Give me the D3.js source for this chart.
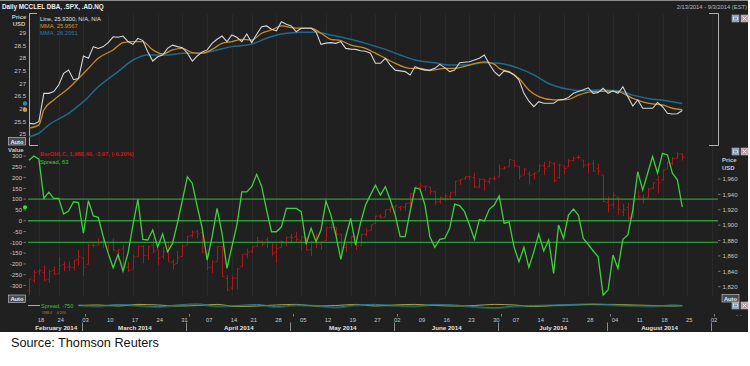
<!DOCTYPE html>
<html><head><meta charset="utf-8">
<script src="https://cdn.jsdelivr.net/npm/d3@7/dist/d3.min.js"></script>
<style>html,body{margin:0;padding:0;background:#fff}svg{display:block}</style>
</head><body>
<svg id="chart" width="750" height="366"></svg>
<script>
// ---------- DATA ----------
const days = ["02-13","02-14","02-18","02-19","02-20","02-21","02-24","02-25","02-26","02-27","02-28",
"03-03","03-04","03-05","03-06","03-07","03-10","03-11","03-12","03-13","03-14","03-17","03-18","03-19","03-20","03-21","03-24","03-25","03-26","03-27","03-28","03-31",
"04-01","04-02","04-03","04-04","04-07","04-08","04-09","04-10","04-11","04-14","04-15","04-16","04-17","04-21","04-22","04-23","04-24","04-25","04-28","04-29","04-30",
"05-01","05-02","05-05","05-06","05-07","05-08","05-09","05-12","05-13","05-14","05-15","05-16","05-19","05-20","05-21","05-22","05-23","05-27","05-28","05-29","05-30",
"06-02","06-03","06-04","06-05","06-06","06-09","06-10","06-11","06-12","06-13","06-16","06-17","06-18","06-19","06-20","06-23","06-24","06-25","06-26","06-27","06-30",
"07-01","07-02","07-03","07-07","07-08","07-09","07-10","07-11","07-14","07-15","07-16","07-17","07-18","07-21","07-22","07-23","07-24","07-25","07-28","07-29","07-30","07-31",
"08-01","08-04","08-05","08-06","08-07","08-08","08-11","08-12","08-13","08-14","08-15","08-18","08-19","08-20","08-21","08-22",
"08-25","08-26","08-27","08-28","08-29","09-02","09-03"];

// DBA daily close (USD)
const dbaLine = [25.42,25.40,25.49,26.61,26.61,26.68,26.94,27.40,27.53,27.15,27.20,28.09,28.00,28.46,28.39,28.46,28.62,28.85,28.83,28.88,
28.66,28.55,28.79,28.70,28.26,27.89,28.06,28.13,28.39,28.52,28.46,28.42,28.20,27.89,28.09,28.25,28.33,28.59,28.75,28.88,
28.66,28.92,28.83,28.66,28.96,28.62,28.95,29.25,29.28,29.15,29.09,29.45,29.35,29.28,29.05,29.19,29.19,29.19,29.05,28.55,
28.60,28.62,28.59,28.66,28.39,28.36,28.35,28.30,28.28,28.20,27.80,27.80,28.00,27.73,27.53,27.50,27.47,27.34,27.67,27.58,
27.53,27.53,27.60,27.76,27.63,27.47,27.53,27.82,27.84,27.86,27.93,28.00,28.13,27.77,27.47,27.30,27.50,27.45,27.34,27.14,
26.61,26.30,26.08,26.28,26.22,26.22,26.22,26.35,26.37,26.45,26.61,26.68,26.75,26.83,26.61,26.64,26.81,26.61,26.71,26.61,
26.87,26.48,26.11,26.35,26.02,26.02,26.02,26.25,26.08,25.82,25.79,25.80,25.93];

// MMA (fast, orange) read at these trading-day indices
const mmaFastDays = [0,2,3,5,8,10,12,14,17,19,21,23,25,27,29,31,33,35,37,39,41,43,45,47,49,51,54,57,59,61,63,65,68,70,72,74,77,79,81,84,86,89,92,94,95,97,99,101,103,106,109,111,114,117,119,122,125,128,130,132];
const mmaFast = [25.23,25.36,25.95,26.35,26.81,27.20,27.60,28.00,28.33,28.62,28.66,28.66,28.33,28.17,28.33,28.39,28.22,28.20,28.35,28.59,28.66,28.75,28.72,28.99,29.12,29.28,29.19,29.19,28.99,28.75,28.70,28.52,28.39,28.20,28.00,27.80,27.60,27.60,27.51,27.60,27.60,27.73,27.86,27.77,27.60,27.47,27.20,26.74,26.48,26.35,26.37,26.54,26.68,26.70,26.68,26.41,26.22,26.15,26.02,25.96];

// MMA (slow, blue)
const mmaSlowDays = [0,2,4,8,11,14,18,21,24,28,31,35,38,41,45,48,51,55,58,61,65,68,72,75,78,82,85,88,92,95,99,102,105,109,112,115,119,122,125,129,132];
const mmaSlow = [24.89,25.03,25.36,25.82,26.28,26.87,27.47,27.93,28.13,28.13,28.20,28.20,28.33,28.46,28.56,28.79,28.96,29.03,29.03,28.92,28.75,28.59,28.35,28.13,27.93,27.82,27.73,27.73,27.82,27.80,27.60,27.34,27.00,26.77,26.71,26.74,26.71,26.54,26.41,26.31,26.21];

// S&P 500 OHLC
const spxOpen = [1814.9,1828.5,1839.3,1838.3,1829.2,1841.1,1836.8,1848.7,1845.8,1844.9,1855.1,1857.7,1849.2,1874.1,1874.2,1878.5,1877.9,1878.3,1866.2,1869.1,
1845.1,1842.8,1858.9,1872.3,1860.1,1874.0,1867.7,1859.5,1867.1,1852.1,1850.1,1859.2,1873.9,1886.6,1891.4,1890.3,1863.9,1845.5,1852.6,1872.3,
1830.7,1818.2,1831.5,1846.0,1861.7,1865.8,1872.6,1879.3,1881.0,1877.7,1865.0,1870.8,1877.1,1884.4,1885.3,1879.5,1883.7,1868.5,1877.4,1875.3,
1880.0,1896.8,1897.1,1888.2,1871.2,1876.7,1884.9,1873.3,1888.2,1893.3,1902.0,1911.8,1910.6,1920.3,1923.9,1923.1,1923.1,1928.5,1942.4,1948.9,
1950.3,1949.4,1943.4,1930.8,1934.8,1937.2,1942.7,1957.5,1960.5,1962.9,1961.9,1949.3,1959.9,1956.6,1960.8,1962.3,1973.1,1975.9,1984.2,1976.4,
1965.1,1966.7,1965.8,1969.9,1977.4,1976.4,1979.8,1961.5,1976.9,1975.7,1984.0,1988.1,1984.6,1978.3,1980.0,1973.2,1965.1,1929.8,1926.6,1936.3,
1917.3,1923.0,1910.4,1933.4,1935.7,1935.6,1947.4,1958.9,1958.4,1972.7,1980.5,1986.8,1992.6];
const spxHigh = [1830.3,1841.7,1842.9,1847.5,1842.1,1846.1,1858.7,1852.7,1852.7,1854.5,1867.9,1857.7,1876.2,1876.5,1883.6,1883.6,1877.9,1882.4,1868.4,1874.4,
1852.4,1862.3,1873.8,1874.1,1873.5,1883.9,1867.9,1871.9,1875.9,1855.6,1866.6,1875.2,1885.8,1893.2,1893.8,1897.3,1864.0,1854.9,1872.4,1872.5,
1835.1,1834.2,1844.0,1862.3,1869.6,1871.9,1884.9,1879.8,1884.1,1877.7,1877.0,1880.0,1885.2,1888.6,1891.3,1885.5,1883.7,1878.8,1889.1,1878.6,
1897.1,1902.2,1897.1,1888.2,1878.3,1886.0,1884.9,1888.8,1896.3,1901.3,1912.3,1914.5,1920.0,1924.0,1925.9,1925.1,1928.6,1941.7,1949.4,1955.6,
1950.9,1949.4,1943.9,1937.3,1941.2,1943.7,1957.7,1959.9,1963.9,1963.7,1968.2,1960.8,1959.9,1961.0,1964.2,1978.6,1976.7,1985.6,1984.2,1976.4,
1974.2,1969.8,1968.7,1979.9,1982.5,1983.9,1981.8,1979.9,1976.9,1986.2,1989.2,1991.4,1984.6,1981.5,1984.9,1980.0,1965.1,1937.4,1942.9,1936.3,
1927.9,1928.9,1932.4,1944.9,1939.7,1948.4,1955.2,1964.0,1972.0,1982.6,1988.6,1994.8,1993.5];
const spxLow = [1809.2,1825.1,1835.0,1826.9,1824.9,1835.6,1836.8,1840.2,1840.7,1841.1,1847.7,1834.4,1849.2,1871.0,1874.2,1870.6,1867.0,1866.1,1854.4,1841.9,
1839.6,1842.8,1858.9,1850.4,1854.6,1863.5,1847.9,1855.9,1852.6,1842.1,1850.1,1859.2,1873.9,1883.8,1882.7,1863.3,1841.5,1837.5,1852.4,1833.0,
1814.4,1815.8,1816.3,1846.0,1856.7,1863.2,1872.6,1872.0,1870.2,1859.7,1851.0,1870.8,1872.7,1878.0,1878.5,1866.8,1867.7,1859.8,1870.1,1867.8,
1880.0,1893.6,1885.8,1862.4,1864.8,1872.4,1868.1,1873.3,1885.4,1893.3,1902.0,1909.1,1909.8,1916.6,1915.0,1918.8,1918.6,1922.9,1942.4,1947.2,
1944.6,1940.1,1925.8,1927.7,1930.9,1933.6,1937.9,1952.3,1959.2,1958.2,1948.3,1949.3,1944.7,1953.0,1958.2,1962.3,1972.6,1975.9,1975.7,1959.5,
1965.1,1952.9,1959.6,1969.9,1965.3,1975.7,1955.6,1960.8,1965.8,1975.7,1982.4,1985.8,1974.4,1967.3,1969.7,1965.1,1930.1,1916.4,1921.2,1913.8,
1911.5,1904.8,1909.0,1933.4,1928.3,1935.6,1947.4,1941.5,1958.4,1972.7,1977.7,1986.8,1984.0];
const spxClose = [1829.8,1838.6,1840.8,1828.8,1839.8,1836.3,1847.6,1845.1,1845.2,1854.3,1859.5,1845.7,1873.9,1873.8,1877.0,1878.0,1877.2,1867.6,1868.2,1846.3,
1841.1,1858.8,1872.3,1860.8,1872.0,1866.5,1857.4,1865.6,1852.6,1849.0,1857.6,1872.3,1885.5,1890.9,1888.8,1865.1,1845.0,1852.0,1872.2,1833.1,
1815.7,1830.6,1843.0,1862.3,1864.9,1871.9,1879.6,1875.4,1878.6,1863.4,1869.4,1878.3,1884.0,1883.7,1881.1,1884.7,1867.7,1878.2,1875.6,1878.5,
1896.7,1897.5,1888.5,1870.9,1877.9,1885.1,1872.8,1888.0,1892.5,1900.5,1911.9,1909.8,1920.0,1923.6,1925.0,1924.2,1927.9,1940.5,1949.4,1951.3,
1950.8,1943.9,1930.1,1936.2,1937.8,1942.0,1957.0,1959.5,1962.9,1962.6,1950.0,1959.5,1957.2,1961.0,1960.2,1973.3,1974.6,1985.4,1977.7,1963.7,
1972.8,1964.7,1967.6,1977.1,1973.3,1981.6,1958.1,1978.2,1973.6,1983.5,1987.0,1988.0,1978.3,1978.9,1970.0,1970.1,1930.7,1925.2,1939.0,1920.2,
1920.2,1909.6,1931.6,1936.9,1933.8,1946.7,1955.2,1955.1,1971.7,1981.6,1986.5,1992.4,1988.4];

// Spread (value axis)
const spread = [280,300,285,104,132,104,104,31,45,88,84,-58,93,22,16,-74,-150,-218,-156,-233,
-151,-20,99,-86,-89,-43,-121,-62,-144,-105,-10,96,204,173,65,-35,-182,-74,57,-58,
-221,-120,-20,134,134,158,215,160,50,-51,-51,-28,57,57,57,42,-108,-35,-97,-43,
91,26,-66,-179,-74,11,-113,-9,73,120,165,119,158,96,26,-74,-74,42,153,146,
73,-74,-123,-86,-82,-35,77,70,42,-20,-86,6,-1,53,73,115,-12,-5,-121,-190,
-123,-216,-144,-62,-140,-89,-244,-20,-82,26,54,26,-82,-110,-140,-167,-344,-321,-159,-221,
-86,-66,50,227,142,220,297,220,312,305,220,190,63];
const spreadLevels = [100, 0, -100];

// lower mini panel
const miniDays = [10,14,18,22,26,30,34,38,42,46,50,54,58,62,66,70,74,78,82,86,90,94,98,102,106,110,114,118,122,126,130,132];
const miniTeal = [0.5,-0.5,1,0,-1,0.5,1.5,-0.5,0,1,-1,0.5,0,-1.5,0.5,1,0,-0.5,1,0.5,-1,-2,-0.5,0,0.5,1,1.5,0.5,0,-0.5,0.5,0];
const miniYellow = [0,0.5,-0.5,1,0.5,-0.5,0,1,-1,-0.5,0.5,1,-0.5,0,1,-0.5,0.5,1,0,-0.5,0,1,0.5,-1,0,0.5,1,1,0.5,0,-0.5,0];

// axes
const priceTicks = [25,25.5,26,26.5,27,27.5,28,28.5,29];
const valueTicks = [300,250,200,150,100,50,0,-50,-100,-150,-200,-250,-300];
const spxTicks = [1960,1940,1920,1900,1880,1860,1840,1820];
const weekTicks = ["02-18","02-24","03-03","03-10","03-17","03-24","03-31","04-07","04-14","04-21","04-28","05-05","05-12","05-19","05-27","06-02","06-09","06-16","06-23","06-30","07-07","07-14","07-21","07-28","08-04","08-11","08-18","08-25","09-02"];
const monthNames = ["February 2014","March 2014","April 2014","May 2014","June 2014","July 2014","August 2014"];
const monthStarts = ["02-13","03-03","04-01","05-01","06-02","07-01","08-01","09-02"];

// ---------- DRAW ----------
const svg = d3.select("#chart");
const F = "'Liberation Sans', Arial, sans-serif";
const di = d => days.indexOf(d);

const x = d3.scaleLinear().domain([0, 138]).range([29, 712]);
const yP = d3.scaleLinear().domain([25, 29]).range([134, 33]);
const yV = d3.scaleLinear().domain([-300, 300]).range([285.5, 156]);
const yS = d3.scaleLinear().domain([1820, 1960]).range([286.7, 179]);
const yM = d3.scaleLinear().domain([-5, 5]).range([311, 300]);

svg.append("rect").attr("x",0).attr("y",0).attr("width",748).attr("height",332).attr("fill","#202020");
svg.append("line").attr("x1",0).attr("x2",748).attr("y1",0.5).attr("y2",0.5).attr("stroke","#8a8a8a");

// faint week gridlines
svg.append("g").selectAll("line").data(weekTicks).join("line")
  .attr("x1",d=>Math.round(x(di(d)))+0.5).attr("x2",d=>Math.round(x(di(d)))+0.5)
  .attr("y1",14).attr("y2",296).attr("stroke","#292929");

// title & range
svg.append("text").attr("x",2).attr("y",9).attr("fill","#f0f0f0").attr("font-family",F)
  .attr("font-size",6.3).attr("font-weight","bold").text("Daily MCCLEL DBA, .SPX, .AD.NQ");
svg.append("text").attr("x",747).attr("y",9).attr("text-anchor","end").attr("fill","#b8b8b8")
  .attr("font-family",F).attr("font-size",5.8).text("2/13/2014 - 9/3/2014 (EST)");

// ---- top panel ----
svg.append("path").attr("d","M37,13.5H29.5V145.5H38").attr("fill","none").attr("stroke","#b0b0b0");
svg.append("path").attr("d","M709,13.5H718.5V145.5H709").attr("fill","none").attr("stroke","#b0b0b0");
const lab = (t,xx,yy,opt={}) => svg.append("text").attr("x",xx).attr("y",yy).attr("fill",opt.fill||"#c8c8c8")
  .attr("font-family",F).attr("font-size",opt.size||6).attr("font-weight",opt.bold?"bold":null)
  .attr("text-anchor",opt.anchor||"start").text(t);
lab("Price",19,18.5,{anchor:"middle",bold:true});
lab("USD",19,26,{anchor:"middle",bold:true});
svg.append("g").selectAll("text").data(priceTicks).join("text")
  .attr("x",26).attr("y",d=>yP(d)+2.2).attr("text-anchor","end").attr("fill","#c8c8c8")
  .attr("font-family",F).attr("font-size",6).text(d=>d);

const lineT = d3.line().x(d=>x(d[0])).y(d=>yP(d[1]));
svg.append("path").datum(mmaSlowDays.map((d,i)=>[d,mmaSlow[i]])).attr("d",lineT.curve(d3.curveMonotoneX))
  .attr("fill","none").attr("stroke","#1e6a8e").attr("stroke-width",1.5);
svg.append("path").datum(mmaFastDays.map((d,i)=>[d,mmaFast[i]])).attr("d",lineT.curve(d3.curveMonotoneX))
  .attr("fill","none").attr("stroke","#c38b2c").attr("stroke-width",1.3);
svg.append("path").datum(dbaLine.map((v,i)=>[i,v])).attr("d",d3.line().x(d=>x(d[0])).y(d=>yP(d[1])))
  .attr("fill","none").attr("stroke","#d6d6d6").attr("stroke-width",1.1);
svg.append("circle").attr("cx",25).attr("cy",yP(mmaSlow[mmaSlow.length-1])).attr("r",2.2).attr("fill","#2b86b8");
svg.append("circle").attr("cx",25).attr("cy",yP(mmaFast[mmaFast.length-1])).attr("r",2.2).attr("fill","#d39a3a");

lab("Line, 25.9300, N/A, N/A",40,21,{fill:"#e0e0e0",size:5.8});
lab("MMA, 25.9567",40,28,{fill:"#d4962c",size:5.8});
lab("MMA, 26.2051",40,35,{fill:"#2a7aa8",size:5.8});

// buttons
function btn(xx,yy){
  svg.append("rect").attr("x",xx).attr("y",yy).attr("width",7).attr("height",7).attr("fill","#7d93ab").attr("stroke","#ccc").attr("stroke-width",0.5);
  svg.append("rect").attr("x",xx+9).attr("y",yy).attr("width",7).attr("height",7).attr("fill","#b79aa8").attr("stroke","#ccc").attr("stroke-width",0.5);
  svg.append("path").attr("d",`M${xx+10.5},${yy+1.5}L${xx+14.5},${yy+5.5}M${xx+14.5},${yy+1.5}L${xx+10.5},${yy+5.5}`).attr("stroke","#fff").attr("stroke-width",0.8);
  svg.append("rect").attr("x",xx+1.5).attr("y",yy+2).attr("width",4).attr("height",3).attr("fill","none").attr("stroke","#fff").attr("stroke-width",0.6);
}
btn(732,15); btn(732,148); btn(732,302);
function auto(xx,yy){
  svg.append("rect").attr("x",xx).attr("y",yy).attr("width",17).attr("height",7.5).attr("fill","#4a4a4a").attr("stroke","#cfcfcf").attr("stroke-width",0.6);
  lab("Auto",xx+8.5,yy+6,{anchor:"middle",size:5.8,fill:"#eee",bold:true});
}
auto(8.5,137.5); auto(8.5,295); auto(722,294.5);

// ---- middle panel ----
lab("Value",8,152,{bold:true});
svg.append("g").selectAll("text").data(valueTicks).join("text")
  .attr("x",22).attr("y",d=>yV(d)+2.2).attr("text-anchor","end").attr("fill","#c8c8c8")
  .attr("font-family",F).attr("font-size",6).text(d=>d);
svg.append("g").selectAll("line").data(valueTicks).join("line")
  .attr("x1",23.5).attr("x2",26).attr("y1",d=>yV(d)).attr("y2",d=>yV(d)).attr("stroke","#aaa").attr("stroke-width",0.6);

lab("Price",722,162,{bold:true});
lab("USD",722,170,{bold:true});
const fmt = d3.format(",");
svg.append("g").selectAll("text").data(spxTicks).join("text")
  .attr("x",722.5).attr("y",d=>yS(d)+2.2).attr("fill","#c8c8c8")
  .attr("font-family",F).attr("font-size",6).text(d=>fmt(d));
svg.append("g").selectAll("line").data(spxTicks).join("line")
  .attr("x1",718).attr("x2",720.5).attr("y1",d=>yS(d)).attr("y2",d=>yS(d)).attr("stroke","#aaa").attr("stroke-width",0.6);

// OHLC bars
const bars = svg.append("g").attr("stroke","#a8191b").attr("stroke-width",1);
spxClose.forEach((c,i)=>{
  const xx = Math.round(x(i))+0.5;
  bars.append("line").attr("x1",xx).attr("x2",xx).attr("y1",yS(spxHigh[i])).attr("y2",yS(spxLow[i]));
  bars.append("line").attr("x1",xx-2).attr("x2",xx).attr("y1",yS(spxOpen[i])).attr("y2",yS(spxOpen[i]));
  bars.append("line").attr("x1",xx).attr("x2",xx+2).attr("y1",yS(c)).attr("y2",yS(c));
});

// spread level lines
svg.append("g").selectAll("line").data(spreadLevels).join("line")
  .attr("x1",28).attr("x2",718).attr("y1",d=>yV(d)).attr("y2",d=>yV(d))
  .attr("stroke","#2e9a35").attr("stroke-width",1.4);
svg.append("path").datum(spread).attr("d",d3.line().x((d,i)=>x(i)).y(d=>yV(d)))
  .attr("fill","none").attr("stroke","#3fcf3f").attr("stroke-width",1.3);
svg.append("circle").attr("cx",25).attr("cy",yV(spread[spread.length-1])).attr("r",2).attr("fill","#3fdf3f");

lab("BarOHLC, 1,988.40, -3.97, (-0.20%)",40,155.5,{fill:"#c8191c",size:5.8,bold:true});
lab("Spread, 63",40,163.5,{fill:"#3fcf3f",size:5.8});

// ---- mini panel ----
svg.append("line").attr("x1",28).attr("x2",40).attr("y1",yM(0)).attr("y2",yM(0)).attr("stroke","#b8b84a").attr("stroke-width",1);
lab("Spread, -750",41,308,{fill:"#3fbf3f",size:5.6});
lab("1988.4",42,314,{fill:"#c08a2a",size:3.2});
lab("-0.20%",56,314,{fill:"#c08a2a",size:3.2});
const lineM = d3.line().x(d=>x(d[0])).y(d=>yM(d[1])).curve(d3.curveMonotoneX);
svg.append("path").datum(miniDays.map((d,i)=>[d,miniYellow[i]])).attr("d",lineM)
  .attr("fill","none").attr("stroke","#a8a040").attr("stroke-width",1);
svg.append("path").datum(miniDays.map((d,i)=>[d,miniTeal[i]])).attr("d",lineM)
  .attr("fill","none").attr("stroke","#2a7a8e").attr("stroke-width",1);
svg.append("path").datum(miniDays.map((d,i)=>[d,(miniTeal[i])])).attr("d",lineM)
  .attr("fill","none").attr("stroke","#2f8f4a").attr("stroke-width",0.5).attr("transform","translate(0,1)");
lab("- -",736,317,{size:6,fill:"#aaa"});

// ---- x axis ----
svg.append("g").selectAll("text").data(weekTicks).join("text")
  .attr("x",d=>x(di(d))+2).attr("y",321.5).attr("text-anchor","middle").attr("fill","#c8c8c8")
  .attr("font-family",F).attr("font-size",5.8).text(d=>d.slice(3));
svg.append("g").selectAll("line").data(monthStarts.slice(1)).join("line")
  .attr("x1",d=>Math.round(x(di(d)))-0.5).attr("x2",d=>Math.round(x(di(d)))-0.5)
  .attr("y1",322.5).attr("y2",331).attr("stroke","#aaa").attr("stroke-width",0.8);
svg.append("g").selectAll("line").data(monthStarts.slice(1)).join("line")
  .attr("x1",d=>Math.round(x(di(d)))+2.5).attr("x2",d=>Math.round(x(di(d)))+2.5)
  .attr("y1",314).attr("y2",316.5).attr("stroke","#aaa").attr("stroke-width",0.7);
svg.append("g").selectAll("text").data(monthNames).join("text")
  .attr("x",(d,i)=>(x(Math.max(0,di(monthStarts[i])-0.2))+x(di(monthStarts[i+1])))/2)
  .attr("y",329.5).attr("text-anchor","middle").attr("fill","#e0e0e0")
  .attr("font-family",F).attr("font-size",6.2).attr("font-weight","bold").text(d=>d);

// source
svg.append("text").attr("x",11).attr("y",346.5).attr("fill","#111").attr("font-family",F)
  .attr("font-size",12.7).text("Source: Thomson Reuters");
</script>
</body></html>
